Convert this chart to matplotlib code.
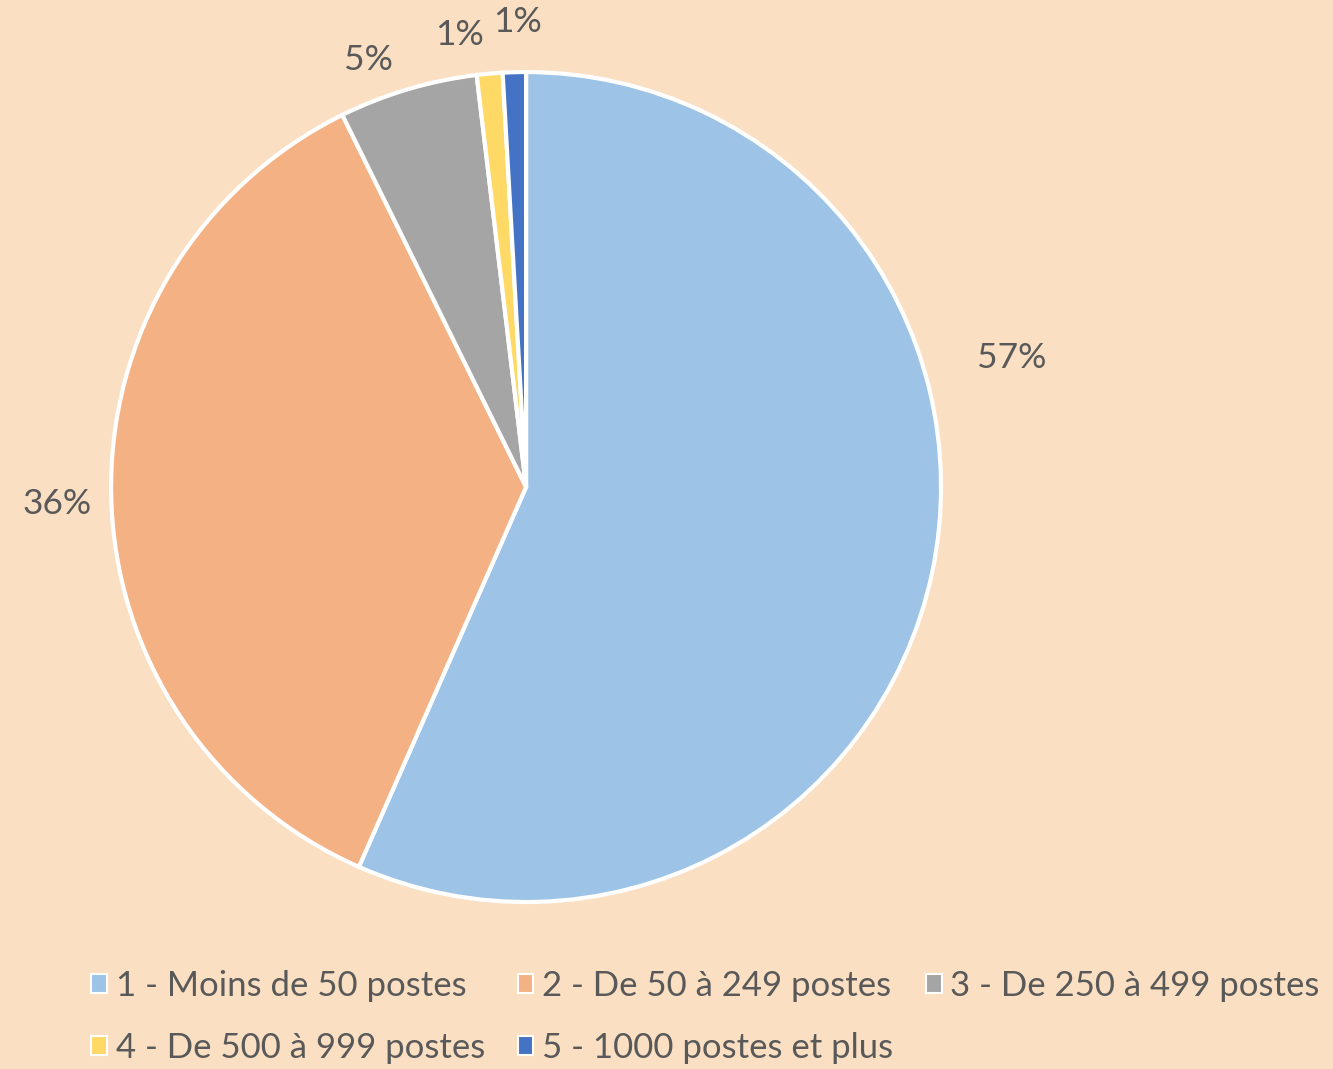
import matplotlib.pyplot as plt
from matplotlib.patches import Patch

# data
categories = ['1 - Moins de 50 postes', '2 - De 50 à 249 postes', '3 - De 250 à 499 postes',
              '4 - De 500 à 999 postes', '5 - 1000 postes et plus']
shares = [56.6, 36.1, 5.4, 1.0, 0.9]
pct_labels = ['57%', '36%', '5%', '1%', '1%']

colors = ['#9DC3E6', '#F4B183', '#A5A5A5', '#FFD966', '#4472C4']
label_pos = [(1.17, 0.31), (-1.13, -0.04), (-0.38, 1.03), (-0.16, 1.09), (-0.02, 1.12)]

bg = '#FADFC3'
txt = '#595959'
plt.rcParams['font.family'] = ['Lato', 'DejaVu Sans']

fig = plt.figure(figsize=(13.33, 10.69), dpi=100, facecolor=bg)
ax = fig.add_axes([0.0833, 0.1562, 0.6227, 0.7764])
ax.set_facecolor(bg)

wedges, _ = ax.pie(shares, colors=colors, startangle=90, counterclock=False, radius=1,
                   wedgeprops=dict(edgecolor='white', linewidth=3))
for (x, y), s in zip(label_pos, pct_labels):
    ax.text(x, y, s, ha='center', va='center', fontsize=25.5, color=txt)

ax.set_xlim(-1, 1)
ax.set_ylim(-1, 1)
ax.set_aspect('equal')
ax.axis('off')

# row-wise legend: 3 items then 2
handles = [Patch(facecolor=c, edgecolor='white', linewidth=1.5) for c in colors]
order = [0, 3, 1, 4, 2]
fig.legend([handles[i] for i in order], [categories[i] for i in order],
           loc='upper left', bbox_to_anchor=(0.058, 0.106), ncol=3, frameon=False,
           fontsize=25, labelcolor=txt, handlelength=0.45, handleheight=0.45,
           handletextpad=0.25, columnspacing=0.95, labelspacing=0.88, borderaxespad=0)

fig.savefig('out.png', dpi=100, facecolor=bg)
